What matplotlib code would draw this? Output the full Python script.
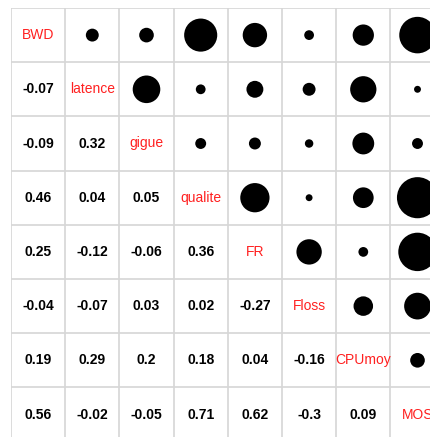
import numpy as np
import matplotlib
matplotlib.use("Agg")
import matplotlib.pyplot as plt
from matplotlib.patches import Circle

labels = ["BWD", "latence", "gigue", "qualite", "FR", "Floss", "CPUmoy", "MOS"]

# lower triangle of the correlation matrix, row by row
lower = [
    [],
    [-0.07],
    [-0.09, 0.32],
    [0.46, 0.04, 0.05],
    [0.25, -0.12, -0.06, 0.36],
    [-0.04, -0.07, 0.03, 0.02, -0.27],
    [0.19, 0.29, 0.2, 0.18, 0.04, -0.16],
    [0.56, -0.02, -0.05, 0.71, 0.62, -0.3, 0.09],
]

n = len(labels)
corr = np.eye(n)
for i, row in enumerate(lower):
    for j, v in enumerate(row):
        corr[i, j] = v
        corr[j, i] = v

plt.rcParams['font.family'] = ['Liberation Sans', 'DejaVu Sans']

fig = plt.figure(figsize=(4.31, 4.37), dpi=100)
cell = 54.2
left = 11 / 431
top = 8 / 437
w = n * cell / 431
h = n * cell / 437
ax = fig.add_axes([left, 1 - top - h, w, h])
ax.set_xlim(0, n)
ax.set_ylim(n, 0)
ax.axis('off')

# grid
for k in range(n + 1):
    ax.axvline(k, color='#d6d6d6', lw=1.2, zorder=0)
    ax.axhline(k, color='#d6d6d6', lw=1.2, zorder=0)

for i in range(n):
    for j in range(n):
        x, y = j + 0.5, i + 0.5
        if i == j:
            ax.text(x, y, labels[i], color='#ff2020', fontsize=10,
                    ha='center', va='center')
        elif i > j:
            ax.text(x, y, str(lower[i][j]), color='black', fontsize=10,
                    fontweight='bold', ha='center', va='center')
        else:
            r = 0.45 * np.sqrt(abs(corr[i, j]))
            ax.add_patch(Circle((x, y), r, color='black', lw=0))

fig.savefig("out.png", dpi=100)
